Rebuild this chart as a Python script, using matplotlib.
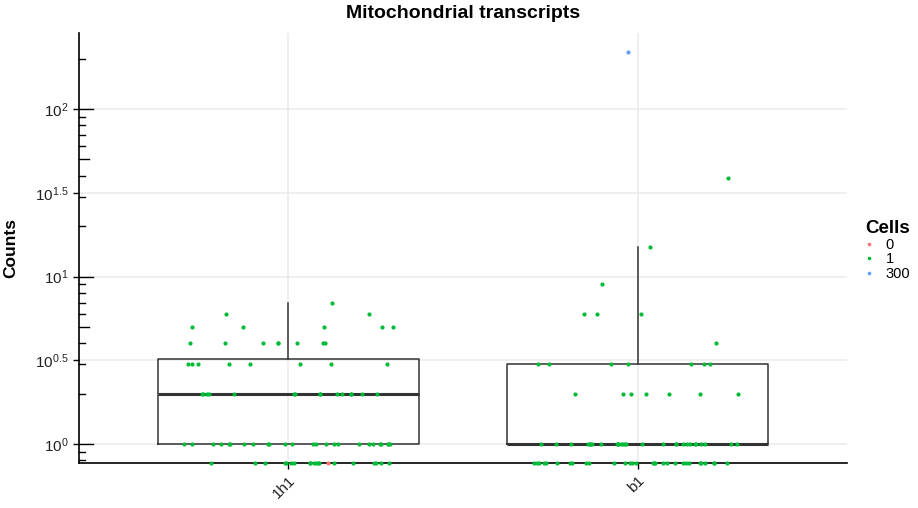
import numpy as np
import matplotlib
matplotlib.use('Agg')
import matplotlib.pyplot as plt
import matplotlib.transforms as mtransforms
from matplotlib import cbook
from matplotlib.lines import Line2D

plt.rcParams['font.family'] = ['Liberation Sans', 'DejaVu Sans']
plt.rcParams['mathtext.fontset'] = 'custom'
plt.rcParams['mathtext.rm'] = 'Liberation Sans'
plt.rcParams['mathtext.it'] = 'Liberation Sans:italic'
plt.rcParams['mathtext.bf'] = 'Liberation Sans:bold'

##### DATA #####
groups = ['1h1', 'b1']

# count level -> number of samples at that level
values_1h1 = [0, 1, 2, 3, 4, 5, 6, 7]
n_1h1 = [20, 25, 15, 8, 8, 5, 2, 1]

values_b1 = [0, 1, 2, 3, 4, 6, 9, 15, 39, 218]
n_b1 = [30, 28, 7, 7, 1, 3, 1, 1, 1, 1]

# cell number legend
cell_levels = ['0', '1', '300']
cell_colors = ['#F8766D', '#00BA38', '#619CFF']
# every sample is a single cell except these (group, count, cells)
special = [('1h1', 0, '0'), ('b1', 218, '300')]

ytick_exp = [0, 0.5, 1, 1.5, 2]
########################################

fig = plt.figure(figsize=(9.18, 5.08), dpi=100)
ax = fig.add_axes([79/918, 1-463/508, 768/918, 430/508])
ax.set_yscale('log')
ylo, yhi = 10**-0.113, 10**2.454
ax.set_ylim(ylo, yhi)
ax.set_xlim(-0.6, 1.6)

# grid like ggplot
ax.set_axisbelow(True)
for e in ytick_exp:
    ax.axhline(10**e, color='#EBEBEB', lw=1.1, zorder=0)
for i in range(len(groups)):
    ax.axvline(i, color='#EBEBEB', lw=1.1, zorder=0)

# boxplots on log10 of the positive counts (zeros dropped like ggplot)
samples = {}
for g, vals, ns in [('1h1', values_1h1, n_1h1), ('b1', values_b1, n_b1)]:
    samples[g] = np.repeat(vals, ns)

stats = []
for g in groups:
    s = samples[g]
    lg = np.log10(s[s > 0])
    st = cbook.boxplot_stats(lg, whis=1.5)[0]
    for key in ['med', 'q1', 'q3', 'whislo', 'whishi', 'mean']:
        st[key] = 10**st[key]
    st['fliers'] = []
    stats.append(st)

ax.bxp(stats, positions=range(len(groups)), widths=0.75, showcaps=False,
       showfliers=False,
       boxprops=dict(color='#333333', lw=1.1),
       whiskerprops=dict(color='#333333', lw=1.1),
       medianprops=dict(color='#333333', lw=2.2), zorder=2)

# jittered points (deterministic spread, zero counts sit on the panel floor)
phi = 0.6180339887
k = 0
pts = {lev: ([], []) for lev in cell_levels}
for gi, g in enumerate(groups):
    specials = [(c, cl) for (gg, c, cl) in special if gg == g]
    for v in samples[g]:
        k += 1
        off = ((k * phi + (k * k) * 0.0731) % 1 - 0.5) * 0.6
        lev = '1'
        for j, (c, cl) in enumerate(specials):
            if c == v:
                lev = cl
                specials.pop(j)
                break
        y = v if v > 0 else ylo
        pts[lev][0].append(gi + off)
        pts[lev][1].append(y)

for lev, col in zip(cell_levels, cell_colors):
    xs, ys = pts[lev]
    ax.scatter(xs, ys, s=9, color=col, lw=0, zorder=5, clip_on=False)

# axes styling
for sp in ['top', 'right']:
    ax.spines[sp].set_visible(False)
for sp in ['left', 'bottom']:
    ax.spines[sp].set_linewidth(1.2)
    ax.spines[sp].set_zorder(4)

ax.set_yticks([10**e for e in ytick_exp])
ax.set_yticklabels([r'$10^{%s}$' % (('%g' % e)) for e in ytick_exp])
ax.yaxis.set_minor_locator(matplotlib.ticker.NullLocator())
ax.set_xticks(range(len(groups)))
ax.set_xticklabels(groups, rotation=45, ha='right', rotation_mode='anchor')
ax.tick_params(axis='both', length=4, width=1, color='black',
               labelsize=11, labelcolor='#222222')

# log ticks on the left side, inside the panel
axw = 768.0
trans = mtransforms.blended_transform_factory(ax.transAxes, ax.transData)
for p in range(-1, 3):
    for m in range(1, 10):
        v = m * 10**p
        if v < ylo or v > yhi:
            continue
        L = 14 if m == 1 else (10 if m == 5 else 6)
        ax.plot([0, L/axw], [v, v], transform=trans, color='black', lw=1,
                clip_on=False, zorder=4)

ax.set_ylabel('Counts', fontsize=12.5, fontweight='bold')
ax.yaxis.set_label_coords(-61/axw, 0.5)
fig.text(463/918, 1-14/508, 'Mitochondrial transcripts', ha='center',
         va='center', fontsize=14, fontweight='bold')

handles = [Line2D([], [], marker='o', ls='', markersize=2.6, color=c,
                  markeredgewidth=0) for c in cell_colors]
leg = fig.legend(handles, cell_levels, title='Cells', loc='upper left',
                 bbox_to_anchor=(865/918, 1-220/508), frameon=False,
                 fontsize=10.5, handlelength=0.6, handletextpad=0.8,
                 labelspacing=0.05, borderpad=0, borderaxespad=0,
                 title_fontproperties={'weight': 'bold', 'size': 13.5})
leg._legend_box.align = 'left'

fig.savefig('out.png', dpi=100)
